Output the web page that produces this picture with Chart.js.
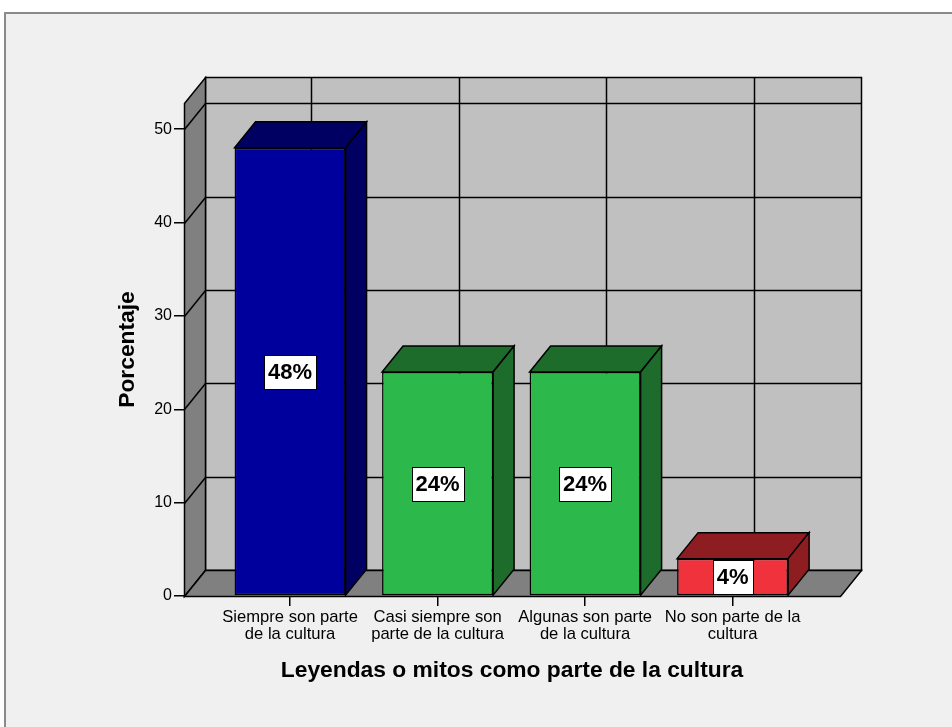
<!DOCTYPE html>
<html>
<head>
<meta charset="utf-8">
<script src="https://cdn.jsdelivr.net/npm/chart.js@4.4.1/dist/chart.umd.min.js"></script>
<style>
  html, body { margin: 0; padding: 0; background: #fff; overflow: hidden; }
  #marco { position: absolute; left: 4px; top: 12px; width: 980px; height: 760px;
           background: #f0f0f0; border: 2px solid #8a8a8a; box-sizing: border-box; }
  #caja { position: absolute; left: 0; top: 0; width: 952px; height: 727px; }
</style>
</head>
<body>
<div id="marco"></div>
<div id="caja"><canvas id="grafico"></canvas></div>
<script>
const categorias = [
  ["Siempre son parte", "de la cultura"],
  ["Casi siempre son", "parte de la cultura"],
  ["Algunas son parte", "de la cultura"],
  ["No son parte de la", "cultura"]
];
const porcentajes = [48, 24, 24, 4];
const etiquetas = ["48%", "24%", "24%", "4%"];
const ticksY = [0, 10, 20, 30, 40, 50];

const colorFrente = ["#00009c", "#2db84b", "#2db84b", "#f0323c"];
const colorLado = ["#000062", "#1d6c2c", "#1d6c2c", "#8e1d22"];

// profundidad de la perspectiva
const DX = 21, DY = -26;

Chart.defaults.font.family = "'Liberation Sans', Arial, sans-serif";
Chart.defaults.color = "#000";

function poly(ctx, pts, fill) {
  ctx.beginPath();
  ctx.moveTo(pts[0][0], pts[0][1]);
  for (let i = 1; i < pts.length; i++) ctx.lineTo(pts[i][0], pts[i][1]);
  ctx.closePath();
  ctx.fillStyle = fill;
  ctx.fill();
  ctx.stroke();
}

function line(ctx, x1, y1, x2, y2) {
  ctx.beginPath();
  ctx.moveTo(x1, y1);
  ctx.lineTo(x2, y2);
  ctx.stroke();
}

const escena3d = {
  id: "escena3d",
  beforeDatasetsDraw(chart) {
    const { ctx, chartArea: a, scales: { x, y } } = chart;
    const top = Math.round(y.getPixelForValue(y.max)) + 0.5;
    const bot = Math.round(y.getPixelForValue(0)) + 0.5;
    const L = Math.round(a.left) + 0.5, R = Math.round(a.right) + 0.5;
    ctx.save();
    ctx.strokeStyle = "#000";
    ctx.lineWidth = 1.5;

    // pared del fondo
    ctx.fillStyle = "#c0c0c0";
    ctx.fillRect(L + DX, top + DY, R - L, bot - top);
    ticksY.forEach(v => {
      const py = Math.round(y.getPixelForValue(v)) + 0.5 + DY;
      line(ctx, L + DX, py, R + DX, py);
    });
    porcentajes.forEach((_, i) => {
      const px = Math.round(x.getPixelForValue(i)) + 0.5 + DX;
      line(ctx, px, top + DY, px, bot + DY);
    });
    ctx.strokeRect(L + DX, top + DY, R - L, bot - top);

    // pared izquierda
    poly(ctx, [[L, top], [L + DX, top + DY], [L + DX, bot + DY], [L, bot]], "#808080");
    ticksY.forEach(v => {
      const py = Math.round(y.getPixelForValue(v)) + 0.5;
      line(ctx, L, py, L + DX, py + DY);
    });

    // piso
    poly(ctx, [[L, bot], [L + DX, bot + DY], [R + DX, bot + DY], [R, bot]], "#808080");

    // caras superior y lateral de cada barra
    const meta = chart.getDatasetMeta(0);
    meta.data.forEach((el, i) => {
      const p = el.getProps(["x", "y", "base", "width"], true);
      const x0 = p.x - p.width / 2, x1 = p.x + p.width / 2;
      poly(ctx, [[x0, p.y], [x0 + DX, p.y + DY], [x1 + DX, p.y + DY], [x1, p.y]], colorLado[i]);
      poly(ctx, [[x1, p.y], [x1 + DX, p.y + DY], [x1 + DX, p.base + DY], [x1, p.base]], colorLado[i]);
    });
    ctx.restore();
  },
  afterDatasetsDraw(chart) {
    const { ctx } = chart;
    const meta = chart.getDatasetMeta(0);
    ctx.save();
    ctx.font = "bold 22px 'Liberation Sans', Arial, sans-serif";
    ctx.textAlign = "center";
    ctx.textBaseline = "middle";
    meta.data.forEach((el, i) => {
      const p = el.getProps(["x", "y", "base"], true);
      const cy = (p.y + p.base) / 2;
      const w = ctx.measureText(etiquetas[i]).width + 8;
      const h = 34;
      const bx = Math.round(p.x - w / 2) + 0.5, by = Math.round(cy - h / 2) + 0.5;
      ctx.fillStyle = "#fff";
      ctx.fillRect(bx, by, Math.round(w), h);
      ctx.strokeStyle = "#000";
      ctx.lineWidth = 1;
      ctx.strokeRect(bx, by, Math.round(w), h);
      ctx.fillStyle = "#000";
      ctx.fillText(etiquetas[i], p.x, cy + 1);
    });
    ctx.restore();
  }
};

new Chart(document.getElementById("grafico"), {
  type: "bar",
  data: {
    datasets: [{
      data: porcentajes.map((v, i) => ({ x: i, y: v })),
      backgroundColor: colorFrente,
      borderColor: "#000",
      borderWidth: 1.5,
      borderSkipped: false,
      categoryPercentage: 1,
      barPercentage: 0.7525
    }]
  },
  options: {
    responsive: true,
    maintainAspectRatio: false,
    animation: false,
    layout: { padding: { top: 103, right: 112, bottom: 0, left: 0 } },
    plugins: { legend: { display: false }, tooltip: { enabled: false } },
    scales: {
      x: {
        type: "linear",
        min: -0.719,
        max: 3.728,
        offset: false,
        grid: { drawOnChartArea: false, offset: false, tickLength: 10, color: "#000", lineWidth: 1.5 },
        border: { display: false },
        afterBuildTicks: s => { s.ticks = categorias.map((_, i) => ({ value: i })); },
        afterFit: s => { s.height = 131; },
        ticks: {
          autoSkip: false,
          maxRotation: 0,
          padding: 3,
          font: { size: 16.6, lineHeight: 1.02 },
          callback: v => categorias[v]
        },
        title: {
          display: true,
          text: "Leyendas o mitos como parte de la cultura",
          font: { size: 22.8, weight: "bold" },
          padding: { top: 0, bottom: 43 }
        }
      },
      y: {
        min: 0,
        max: 52.8,
        grid: { drawOnChartArea: false, tickLength: 10, color: "#000", lineWidth: 1.5 },
        border: { display: false },
        afterBuildTicks: s => { s.ticks = ticksY.map(v => ({ value: v })); },
        afterFit: s => { s.width = 184; },
        ticks: { padding: 2, font: { size: 16 } },
        title: {
          display: true,
          text: "Porcentaje",
          font: { size: 22.8, weight: "bold" },
          padding: { top: 114, bottom: 0 }
        }
      }
    }
  },
  plugins: [escena3d]
});
</script>
</body>
</html>
